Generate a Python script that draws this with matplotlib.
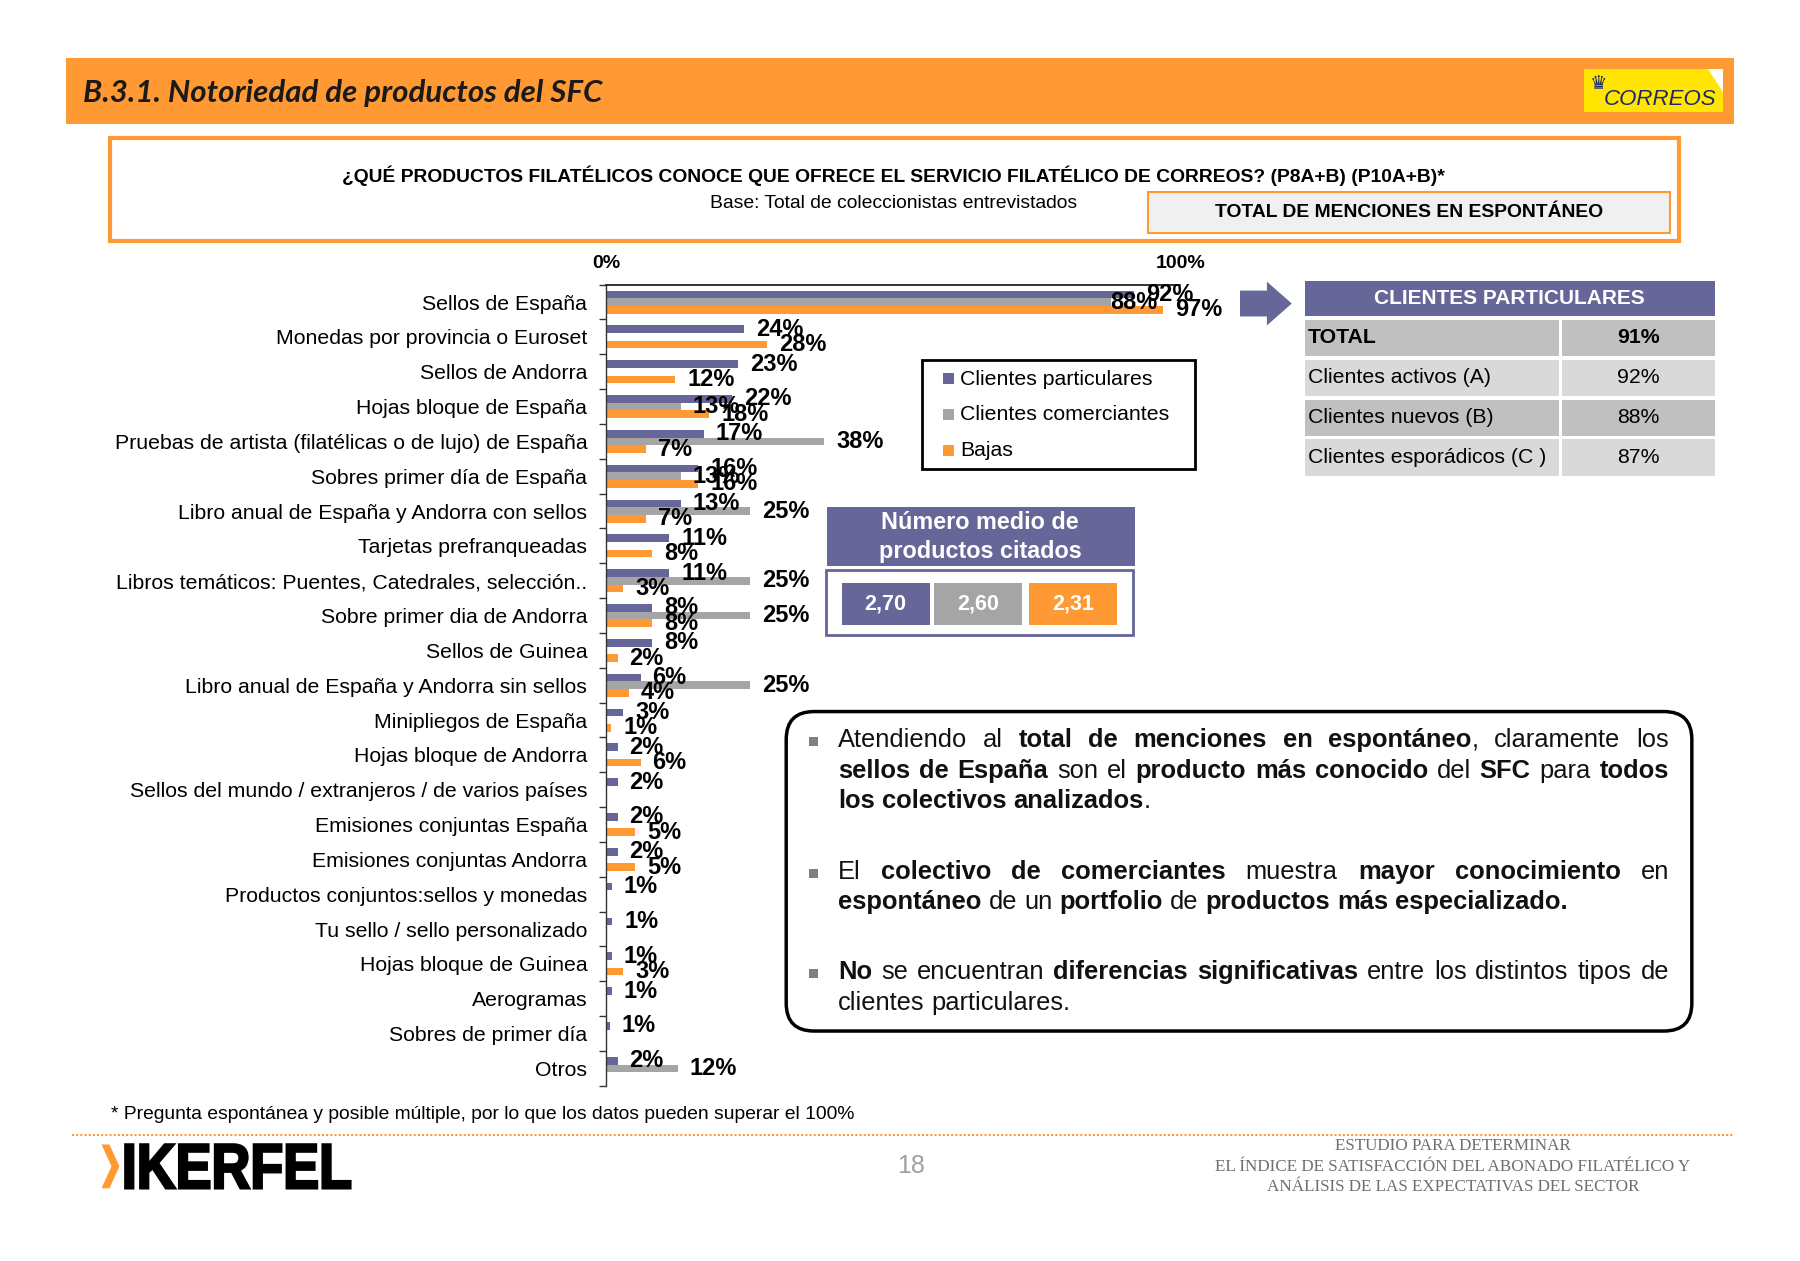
import matplotlib
matplotlib.use('Agg')
import matplotlib.pyplot as plt
import numpy as np
from matplotlib.patches import Rectangle, FancyBboxPatch, Polygon, PathPatch
from matplotlib.textpath import TextPath
from matplotlib.font_manager import FontProperties
from matplotlib.transforms import Affine2D

plt.rcParams['font.family'] = ['Liberation Sans', 'DejaVu Sans']

# datos del grafico
productos = ['Sellos de España', 'Monedas por provincia o Euroset', 'Sellos de Andorra',
             'Hojas bloque de España', 'Pruebas de artista (filatélicas o de lujo) de España',
             'Sobres primer día de España', 'Libro anual de España y Andorra con sellos',
             'Tarjetas prefranqueadas', 'Libros temáticos: Puentes, Catedrales, selección..',
             'Sobre primer dia de Andorra', 'Sellos de Guinea', 'Libro anual de España y Andorra sin sellos',
             'Minipliegos de España', 'Hojas bloque de Andorra', 'Sellos del mundo / extranjeros / de varios países',
             'Emisiones conjuntas España', 'Emisiones conjuntas Andorra', 'Productos conjuntos:sellos y monedas',
             'Tu sello / sello personalizado', 'Hojas bloque de Guinea', 'Aerogramas', 'Sobres de primer día', 'Otros']
particulares = [92, 24, 23, 22, 17, 16, 13, 11, 11, 8, 8, 6, 3, 2, 2, 2, 2, 1, 1.1, 1, 1, 0.6, 2]
comerciantes = [88, 0, 0, 13, 38, 13, 25, 0, 25, 25, 0, 25, 0, 0, 0, 0, 0, 0, 0, 0, 0, 0, 12.5]
bajas = [97, 28, 12, 18, 7, 16, 7, 8, 3, 8, 2, 4, 0.9, 6, 0, 5, 5, 0, 0, 3, 0, 0, 0]
series = ['Clientes particulares', 'Clientes comerciantes', 'Bajas']

tabla_filas = ['TOTAL', 'Clientes activos (A)', 'Clientes nuevos (B)', 'Clientes esporádicos (C )']
tabla_valores = ['91%', '92%', '88%', '87%']
medias = [2.70, 2.60, 2.31]

MORADO = '#666699'
GRIS = '#a5a5a5'
NARANJA = '#ff9933'
colores = [MORADO, GRIS, NARANJA]

S = 0.9952  # ajuste de escala de las coordenadas medidas

fig = plt.figure(figsize=(18, 12.61), dpi=100)

# capa de fondo en pixeles
ax0 = fig.add_axes([0, 0, 1, 1], zorder=0)
ax0.set_xlim(0, 1800 / S)
ax0.set_ylim(1261 / S, 0)
ax0.axis('off')

# cabecera
ax0.add_patch(Rectangle((66, 58), 1676, 67, color=NARANJA, lw=0))
ax0.text(83, 93, 'B.3.1. Notoriedad de productos del SFC', fontsize=22.5, fontweight='bold',
         style='italic', family=['Lato', 'DejaVu Sans'], color='#1a1a1a', va='center')
ax0.add_patch(Rectangle((1592, 69), 139, 44, color='#ffe500', lw=0))
ax0.add_patch(Polygon([(1716, 69), (1731, 69), (1731, 92)], color='white', lw=0))
ax0.text(1598, 84, '♛', fontsize=14, family='DejaVu Sans', color='#1b2a6e', va='center')
ax0.text(1612, 100, 'CORREOS', fontsize=16, style='italic', color='#1b2a6e', va='center')

# caja de la pregunta
ax0.add_patch(Rectangle((111, 139), 1576, 103, fill=False, ec=NARANJA, lw=3))
ax0.text(898, 177, '¿QUÉ PRODUCTOS FILATÉLICOS CONOCE QUE OFRECE EL SERVICIO FILATÉLICO DE CORREOS? (P8A+B) (P10A+B)*',
         fontsize=13.9, fontweight='bold', ha='center', va='center')
ax0.text(898, 204, 'Base: Total de coleccionistas entrevistados', fontsize=13.9, ha='center', va='center')
ax0.add_patch(Rectangle((1154, 193), 524, 41, fc='#f0f0f0', ec=NARANJA, lw=1.5))
ax0.text(1416, 214, 'TOTAL DE MENCIONES EN ESPONTÁNEO', fontsize=13.9, fontweight='bold', ha='center', va='center')

# grafico de barras
ax = fig.add_axes([609 * S / 1800, 1 - 1091 * S / 1261, 577 * S / 1800, 805 * S / 1261], zorder=2)
ax.patch.set_alpha(0)
y = np.arange(len(productos))
h = 0.22
for k, vals in enumerate([particulares, comerciantes, bajas]):
    off = (k - 1) * h
    ax.barh(y + off, vals, height=h, color=colores[k], label=series[k])
    for i, v in enumerate(vals):
        if v <= 0:
            continue
        if (i, k) == (0, 1):
            ax.text(v + 8, i + off, f'{v:.0f}%', ha='right', va='center', fontsize=17,
                    fontweight='bold', clip_on=False)
        else:
            ax.text(v + 2.1, i + off, f'{v:.0f}%', ha='left', va='center', fontsize=17,
                    fontweight='bold', clip_on=False)

ax.set_xlim(0, 100)
ax.set_ylim(len(productos) - 0.5, -0.5)
ax.set_yticks(y)
ax.set_yticklabels(productos, fontsize=15.3)
ax.set_yticks(np.arange(-0.5, len(productos)), minor=True)
ax.tick_params(axis='y', which='major', length=0, pad=13.5)
ax.tick_params(axis='y', which='minor', length=5, width=1, direction='out', color='#333333')
ax.xaxis.tick_top()
ax.set_xticks([0, 100])
ax.set_xticklabels(['0%', '100%'], fontsize=14, fontweight='bold')
ax.tick_params(axis='x', length=0, pad=9)
for s in ['right', 'bottom']:
    ax.spines[s].set_visible(False)
ax.spines['left'].set_color('#333333')
ax.spines['top'].set_color('#111111')
ax.spines['left'].set_linewidth(1)
ax.spines['top'].set_linewidth(1.2)

# leyenda
ax0.add_patch(Rectangle((926, 362), 275, 109, fill=False, ec='black', lw=2, zorder=3))
for k, nombre in enumerate(series):
    yy = 381 + k * 36
    ax0.add_patch(Rectangle((948, yy - 6), 11, 11, color=colores[k], lw=0))
    ax0.text(965, yy, nombre, fontsize=15.3, va='center')

# flecha
ax0.add_patch(Polygon([(1246, 292), (1273, 292), (1273, 283), (1298, 305), (1273, 327),
                       (1273, 318), (1246, 318)], color=MORADO, lw=0))

# tabla clientes particulares
ax0.add_patch(Rectangle((1311, 282), 412, 36, color=MORADO, lw=0))
ax0.text(1517, 300, 'CLIENTES PARTICULARES', fontsize=15, fontweight='bold', color='white',
         ha='center', va='center')
for i, (fila, val) in enumerate(zip(tabla_filas, tabla_valores)):
    y0 = 321.5 + i * 40
    c = '#c0c0c0' if i % 2 == 0 else '#d9d9d9'
    ax0.add_patch(Rectangle((1311, y0), 256, 36.5, color=c, lw=0))
    ax0.add_patch(Rectangle((1570, y0), 153, 36.5, color=c, lw=0))
    peso = 'bold' if i == 0 else 'normal'
    ax0.text(1314, y0 + 18, fila, fontsize=15.3, fontweight=peso, va='center')
    ax0.text(1646, y0 + 18, val, fontsize=15.3, fontweight=peso, va='center', ha='center')

# numero medio de productos citados
ax0.add_patch(Rectangle((831, 509), 309, 60, color=MORADO, lw=0))
ax0.text(985, 525, 'Número medio de', fontsize=16.8, fontweight='bold', color='white', ha='center', va='center')
ax0.text(985, 554, 'productos citados', fontsize=16.8, fontweight='bold', color='white', ha='center', va='center')
ax0.add_patch(Rectangle((830, 573), 308, 65, fc='white', ec=MORADO, lw=2))
for k, m in enumerate(medias):
    x0 = [846, 939, 1034][k]
    ax0.add_patch(Rectangle((x0, 586), 88, 42, color=colores[k], lw=0))
    ax0.text(x0 + 44, 607, f'{m:.2f}'.replace('.', ','), fontsize=15.5, fontweight='bold',
             color='white', ha='center', va='center')

# caja de conclusiones
ax0.add_patch(FancyBboxPatch((790, 715), 910, 321, boxstyle='round,pad=0,rounding_size=28',
                             fc='white', ec='black', lw=2.5))


def trocear(s):
    palabras = []
    negrita = False
    for w in s.split(' '):
        partes = []
        for j, p in enumerate(w.split('*')):
            if j > 0:
                negrita = not negrita
            if p:
                partes.append((p, negrita))
        palabras.append(partes)
    return palabras


def parrafo(lineas, yb0, x0=842, x1=1677, dy=30.5, size=18.4):
    r = fig.canvas.get_renderer()
    for k, linea in enumerate(lineas):
        yb = yb0 + k * dy
        palabras = []
        for palabra in trocear(linea):
            partes = []
            ancho = 0
            for txt, neg in palabra:
                t = ax0.text(0, yb, txt, fontsize=size, fontweight='bold' if neg else 'normal',
                             va='baseline', ha='left', color='#111111')
                w = t.get_window_extent(renderer=r).width / S
                partes.append((t, w))
                ancho += w
            palabras.append((partes, ancho))
        total = sum(a for _, a in palabras)
        if k < len(lineas) - 1:
            hueco = (x1 - x0 - total) / (len(palabras) - 1)
        else:
            hueco = size * 100 / 72 * 0.278 / S
        x = x0
        for partes, ancho in palabras:
            for t, w in partes:
                t.set_x(x)
                x += w
            x += hueco


parrafos = [
    ["Atendiendo al *total de menciones en espontáneo*, claramente los",
     "*sellos de España* son el *producto más conocido* del *SFC* para *todos*",
     "*los colectivos analizados*."],
    ["El *colectivo de comerciantes* muestra *mayor conocimiento* en",
     "*espontáneo* de un *portfolio* de *productos más especializado.*"],
    ["*No* se encuentran *diferencias significativas* entre los distintos tipos de",
     "clientes particulares."],
]
for lineas, yc in zip(parrafos, [744, 876, 977]):
    ax0.add_patch(Rectangle((813, yc - 3), 9, 9, color='#808080', lw=0))
    parrafo(lineas, yc + 7)

# pie
ax0.text(112, 1120, '* Pregunta espontánea y posible múltiple, por lo que los datos pueden superar el 100%',
         fontsize=13.9, va='center')
ax0.plot([72, 1742], [1140, 1140], color=NARANJA, lw=1.5, ls=(0, (1, 1)))

ax0.add_patch(Polygon([(102, 1150), (110, 1150), (120, 1172), (110, 1194), (102, 1194), (112, 1172)],
                      color=NARANJA, lw=0))
tp = TextPath((0, 0), 'IKERFEL', size=100, prop=FontProperties(family='Liberation Sans', weight='bold'))
bb = tp.get_extents()
sx = (352 - 126) / bb.width
sy = (1194 - 1150) / bb.height
tr = Affine2D().translate(-bb.x0, -bb.y0).scale(sx, -sy).translate(126, 1194)
ax0.add_patch(PathPatch(tr.transform_path(tp), fc='black', ec='black', lw=1.8))

ax0.text(915, 1172, '18', fontsize=18, color='#a0a0a0', ha='center', va='center')
for i, linea in enumerate(['ESTUDIO PARA DETERMINAR',
                           'EL ÍNDICE DE SATISFACCIÓN DEL ABONADO FILATÉLICO Y',
                           'ANÁLISIS DE LAS EXPECTATIVAS DEL SECTOR']):
    ax0.text(1460, 1152 + i * 20.5, linea, fontsize=12.3, family=['Liberation Serif', 'DejaVu Serif'],
             color='#6f6f6f', ha='center', va='center')

fig.savefig('out.png', dpi=100)
